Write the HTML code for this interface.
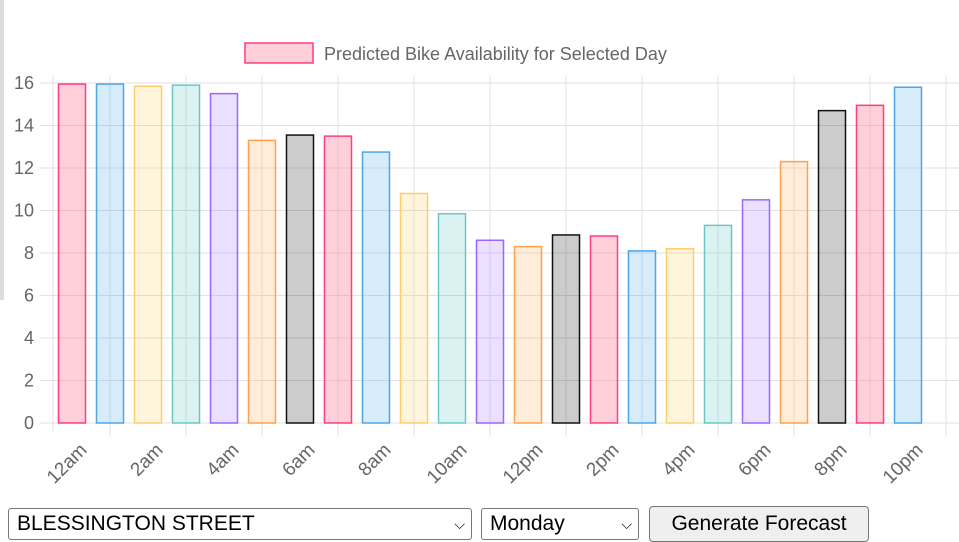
<!DOCTYPE html>
<html><head><meta charset="utf-8"><style>
body{margin:0;width:959px;height:542px;overflow:hidden;background:#fff;font-family:"Liberation Sans",sans-serif;position:relative}
.sel{position:absolute;top:508px;height:32px;border:1px solid #767676;border-radius:3px;background:#fff;font-size:21px;line-height:30px;padding-left:8px;box-sizing:border-box;color:#000}
.sel span.ar{position:absolute;right:6px;top:0;font-size:14px}
.btn{position:absolute;top:506px;left:649px;width:220px;height:36px;border:1px solid #767676;border-radius:4px;background:#efefef;font-size:21px;line-height:34px;text-align:center;box-sizing:border-box}
</style></head><body>
<div style="position:absolute;left:0;top:0;width:4px;height:300px;background:#ddd"></div>
<svg id="chart" width="959" height="505" style="position:absolute;left:0;top:0" font-family="Liberation Sans, sans-serif"></svg>
<div class="sel" style="left:8px;width:464px">BLESSINGTON STREET<span class="ar">&#x2335;</span></div>
<div class="sel" style="left:481px;width:158px">Monday<span class="ar">&#x2335;</span></div>
<div class="btn">Generate Forecast</div>
<script>
const categories=["12am","1am","2am","3am","4am","5am","6am","7am","8am","9am","10am","11am","12pm","1pm","2pm","3pm","4pm","5pm","6pm","7pm","8pm","9pm","10pm","11pm"];
const values=[15.95,15.95,15.85,15.9,15.5,13.3,13.55,13.5,12.75,10.8,9.85,8.6,8.3,8.85,8.8,8.1,8.2,9.3,10.5,12.3,14.7,14.95,15.8,null];
const yTicks=[0,2,4,6,8,10,12,14,16];
const fills=["rgba(255,99,132,0.3)","rgba(54,162,235,0.2)","rgba(255,206,86,0.2)","rgba(75,192,192,0.2)","rgba(153,102,255,0.2)","rgba(255,159,64,0.2)","rgba(0,0,0,0.2)"];
const strokes=["#ff3d7f","#4ea6e6","#ffcd66","#6cc6c6","#9966ff","#ffa04d","#111"];
const svg=document.getElementById('chart');const NS="http://www.w3.org/2000/svg";
const x0=53,step=38,yBase=423,yTop=83,yMax=16;
const xC=i=>x0+step*(i+0.5);
const y=v=>yBase-(v/yMax)*(yBase-yTop);
function mk(t,a,p){const e=document.createElementNS(NS,t);for(const k in a)e.setAttribute(k,a[k]);(p||svg).appendChild(e);return e;}
yTicks.forEach(t=>{
 const l=mk('line',{x1:40,x2:959,y1:y(t),y2:y(t),stroke:'#e2e2e2','stroke-width':1});
 
 
 const tx=mk('text',{x:34,y:y(t)+6,'text-anchor':'end','font-size':18,fill:'#666'});tx.textContent=t;
 
 
});
mk('line',{x1:x0,x2:x0,y1:yTop-8,y2:yBase+8,stroke:'#e2e2e2'});
categories.forEach((c,i)=>{
 if(i%2===1){
  const g=mk('line',{x1:xC(i),x2:xC(i),y1:yTop-8,y2:yBase+14,stroke:'#e2e2e2'});
  
  
 } else {
  const ax=xC(i)+16, ay=451;
  const tx=mk('text',{x:ax,y:ay,'text-anchor':'end','font-size':19,fill:'#666',transform:`rotate(-45 ${ax} ${ay})`});tx.textContent=c;
  
  
 }
});
values.forEach((v,i)=>{
 if(v==null)return;
 const r=mk('rect',{x:xC(i)-13.5,y:y(v),width:27,height:yBase-y(v),fill:fills[i%7],stroke:strokes[i%7],'stroke-width':1.5});
 
 
});
const lb=mk('rect',{x:245,y:43,width:68,height:20,fill:'rgba(255,99,132,0.3)',stroke:'#ff3d7f','stroke-width':1.5});


const lt=mk('text',{x:324,y:60,'font-size':18,fill:'#666'});lt.textContent='Predicted Bike Availability for Selected Day';


</script>
</body></html>
